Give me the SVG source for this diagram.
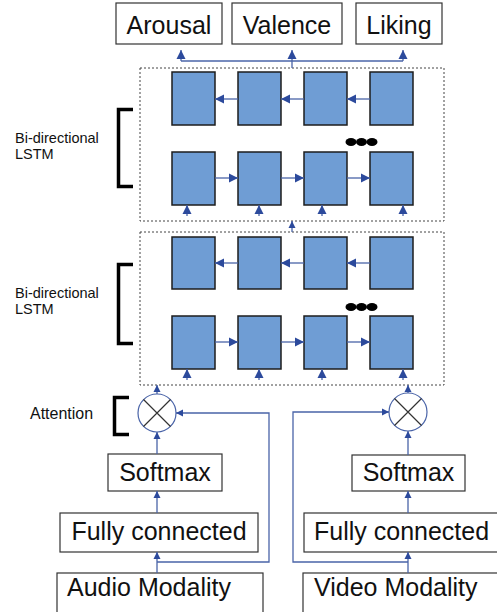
<svg xmlns="http://www.w3.org/2000/svg" width="497" height="612" viewBox="0 0 497 612">
<defs>
<marker id="ah" markerUnits="userSpaceOnUse" markerWidth="10" markerHeight="10" refX="9" refY="5" orient="auto"><path d="M0,0.5 L9,5 L0,9.5 z" fill="#2c4a9c"/></marker>
<marker id="as" markerUnits="userSpaceOnUse" markerWidth="8" markerHeight="8" refX="7" refY="4" orient="auto"><path d="M0,0.5 L7,4 L0,7.5 z" fill="#2c4a9c"/></marker>
<style>
.box{fill:#fff;stroke:#333;stroke-width:1.2}
.cell{fill:#6f9dd4;stroke:#1c1c1c;stroke-width:1.5}
.lbl{font-family:"Liberation Sans",Arial,sans-serif;font-size:25px;fill:#111}
.sm{font-family:"Liberation Sans",Arial,sans-serif;font-size:14.5px;fill:#111}
.att{font-family:"Liberation Sans",Arial,sans-serif;font-size:16px;fill:#111}
.dot{fill:none;stroke:#444;stroke-width:1;stroke-dasharray:2,2}
.c{fill:none;stroke:#4a64a8;stroke-width:1.3}
.ca{fill:none;stroke:#4a64a8;stroke-width:1.3;marker-end:url(#ah)}
.cs{fill:none;stroke:#4a64a8;stroke-width:1.3;marker-end:url(#as)}
.br{fill:none;stroke:#000;stroke-width:3.5}
.dt{fill:#000}
</style>
</defs>

<g id="arousal"><rect class="box" x="116" y="3" width="106" height="41"/><text class="lbl" x="169" y="34" text-anchor="middle">Arousal</text></g>
<g id="valence"><rect class="box" x="232" y="3" width="110" height="41"/><text class="lbl" x="287" y="34" text-anchor="middle">Valence</text></g>
<g id="liking"><rect class="box" x="356" y="3" width="86" height="41"/><text class="lbl" x="399" y="34" text-anchor="middle">Liking</text></g>

<g id="lstm1">
<rect class="dot" x="140" y="68" width="304" height="153"/>
<rect class="cell" x="172" y="72" width="43" height="53"/>
<rect class="cell" x="238" y="72" width="43" height="53"/>
<rect class="cell" x="304" y="72" width="43" height="53"/>
<rect class="cell" x="370" y="72" width="43" height="53"/>
<rect class="cell" x="172" y="152" width="43" height="53"/>
<rect class="cell" x="238" y="152" width="43" height="53"/>
<rect class="cell" x="304" y="152" width="43" height="53"/>
<rect class="cell" x="370" y="152" width="43" height="53"/>
<ellipse class="dt" cx="351" cy="142" rx="5.5" ry="4"/>
<ellipse class="dt" cx="361.5" cy="142" rx="5.5" ry="4"/>
<ellipse class="dt" cx="372" cy="142" rx="5.5" ry="4"/>
</g>

<g id="lstm2">
<rect class="dot" x="140" y="232" width="304" height="153"/>
<rect class="cell" x="172" y="237" width="43" height="52"/>
<rect class="cell" x="238" y="237" width="43" height="52"/>
<rect class="cell" x="304" y="237" width="43" height="52"/>
<rect class="cell" x="370" y="237" width="43" height="52"/>
<rect class="cell" x="172" y="316" width="43" height="53"/>
<rect class="cell" x="238" y="316" width="43" height="53"/>
<rect class="cell" x="304" y="316" width="43" height="53"/>
<rect class="cell" x="370" y="316" width="43" height="53"/>
<ellipse class="dt" cx="351" cy="307" rx="5.5" ry="4"/>
<ellipse class="dt" cx="361.5" cy="307" rx="5.5" ry="4"/>
<ellipse class="dt" cx="372" cy="307" rx="5.5" ry="4"/>
</g>

<g id="labels">
<path class="br" d="M133,109.5 H118.5 V186.5 H133"/>
<text class="sm" x="15" y="143">Bi-directional</text>
<text class="sm" x="15" y="159">LSTM</text>
<path class="br" d="M133,264.5 H118.5 V343.5 H133"/>
<text class="sm" x="15" y="298">Bi-directional</text>
<text class="sm" x="15" y="314">LSTM</text>
<path class="br" d="M129,397.5 H114.5 V434.5 H129"/>
<text class="att" x="30" y="419">Attention</text>
</g>

<g id="mult-audio"><circle cx="157" cy="413" r="19" fill="#fff" stroke="#4a64a8" stroke-width="1.2"/><path d="M143.5,399.5 L170.5,426.5 M170.5,399.5 L143.5,426.5" stroke="#333" stroke-width="1.2"/></g>
<g id="mult-video"><circle cx="408" cy="412" r="19" fill="#fff" stroke="#4a64a8" stroke-width="1.2"/><path d="M394.5,398.5 L421.5,425.5 M421.5,398.5 L394.5,425.5" stroke="#333" stroke-width="1.2"/></g>

<g id="softmax-audio"><rect class="box" x="108" y="454" width="114" height="37"/><text class="lbl" x="165" y="481" text-anchor="middle">Softmax</text></g>
<g id="softmax-video"><rect class="box" x="352" y="455" width="113" height="36"/><text class="lbl" x="408.5" y="481" text-anchor="middle">Softmax</text></g>
<g id="fc-audio"><rect class="box" x="60" y="513" width="198" height="39"/><text class="lbl" x="159" y="540" text-anchor="middle">Fully connected</text></g>
<g id="fc-video"><rect class="box" x="304" y="513" width="196" height="39"/><text class="lbl" x="314" y="540">Fully connected</text></g>
<g id="audio"><rect class="box" x="57" y="573" width="206" height="45"/><text class="lbl" x="67" y="596">Audio Modality</text></g>
<g id="video"><rect class="box" x="303" y="573" width="200" height="45"/><text class="lbl" x="314" y="596">Video Modality</text></g>

<g id="connectors">
<path class="c" d="M181,61 H403"/>
<path class="ca" d="M181,61 V50"/>
<path class="ca" d="M292,68 V50"/>
<path class="ca" d="M403,61 V50"/>
<path class="ca" d="M238,99 H215"/>
<path class="ca" d="M304,99 H281"/>
<path class="ca" d="M370,99 H347"/>
<path class="ca" d="M215,178 H238"/>
<path class="ca" d="M281,178 H304"/>
<path class="ca" d="M347,178 H370"/>
<path class="ca" d="M187,216 V205"/>
<path class="ca" d="M259,216 V205"/>
<path class="ca" d="M322,216 V205"/>
<path class="ca" d="M403,216 V205"/>
<path class="cs" d="M292,232 V221"/>
<path class="ca" d="M238,263 H215"/>
<path class="ca" d="M304,263 H281"/>
<path class="ca" d="M370,263 H347"/>
<path class="ca" d="M215,342 H238"/>
<path class="ca" d="M281,342 H304"/>
<path class="ca" d="M347,342 H370"/>
<path class="ca" d="M187,380 V369"/>
<path class="ca" d="M259,380 V369"/>
<path class="ca" d="M322,380 V369"/>
<path class="ca" d="M403,380 V369"/>
<path class="cs" d="M157,394 V385"/>
<path class="cs" d="M408,393 V385"/>
<path class="cs" d="M157,454 V432"/>
<path class="cs" d="M408,455 V431"/>
<path class="cs" d="M157,513 V491"/>
<path class="cs" d="M408,513 V491"/>
<path class="cs" d="M157,573 V552"/>
<path class="cs" d="M408,573 V552"/>
<path class="cs" d="M157,562 H269 V413 H176"/>
<path class="cs" d="M408,562 H293 V412 H389"/>
</g>
</svg>
